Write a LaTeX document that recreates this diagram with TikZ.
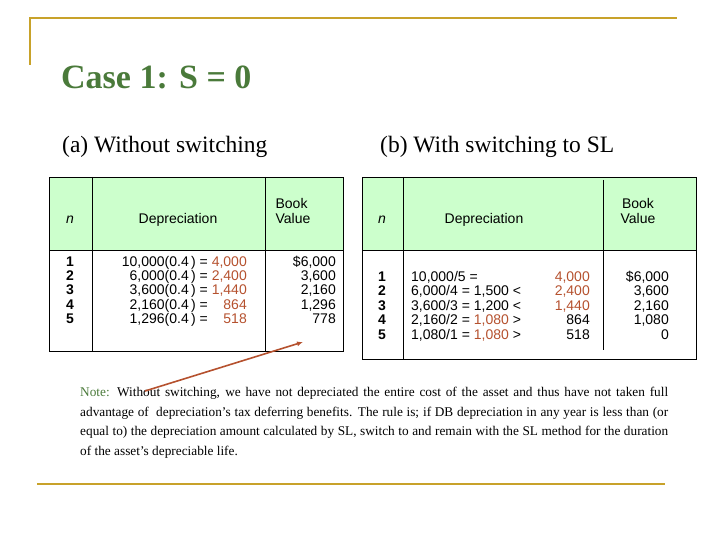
\documentclass[tikz,border=0pt]{standalone}
\usetikzlibrary{arrows.meta}
\usepackage{fontspec}
\setmainfont{Liberation Serif}
\newfontfamily\arial{Liberation Sans}
\definecolor{gold}{HTML}{C8A22A}
\definecolor{ttl}{HTML}{4A7A3A}
\definecolor{rd}{HTML}{B5512E}
\definecolor{hdr}{HTML}{CCFFCC}
\newcommand{\rv}[1]{\makebox[2.5em][r]{\color{rd}#1}}
\newcommand{\bv}[1]{\makebox[2.5em][r]{#1}}
\newcommand{\lrow}[5]{%
  \node[nb,anchor=base] (lr#1) at (70,266+14.4*#1) {#2};
  \node[tt,anchor=base east] (ldv#1) at (247,266+14.4*#1) {#3(0.4\,) = \rv{#4}};
  \node[tt,anchor=base east] (lbv#1) at (336,266+14.4*#1) {#5};}
\newcommand{\rrow}[5]{%
  \node[nb,anchor=base] (rr#1) at (382,281+14.6*#1) {#2};
  \node[tt,anchor=base west] (rdl#1) at (411,281+14.6*#1) {#3};
  \node[tt,anchor=base east] (rdr#1) at (590,281+14.6*#1) {#4};
  \node[tt,anchor=base east] (rbv#1) at (669,281+14.6*#1) {#5};}
\begin{document}
\begin{tikzpicture}[x=1pt,y=-1pt,
  tt/.style={font=\arial\fontsize{14}{14.5}\selectfont,inner sep=0pt},
  nb/.style={font=\arial\bfseries\fontsize{14}{14.5}\selectfont,inner sep=0pt},
  tb/.style={draw=black,line width=0.8pt}]
\useasboundingbox (0,0) rectangle (720,540);
\draw[gold,line width=2.5pt] (30,65) -- (30,18) -- (677,18);
\draw[gold,line width=1.8pt] (37,484) -- (665,484);
\node[anchor=base west,inner sep=0pt,text=ttl,font=\bfseries\fontsize{34}{36}\selectfont] (title) at (61,89) {Case 1: S = 0};
\node[anchor=base west,inner sep=0pt,font=\fontsize{23.5}{26}\selectfont] (sa) at (62,153) {(a) Without switching};
\node[anchor=base west,inner sep=0pt,font=\fontsize{23.5}{26}\selectfont] (sb) at (380,153) {(b) With switching to SL};
% left table
\fill[hdr] (49,177) rectangle (343,250);
\draw[tb] (49,177) rectangle (343,351);
\draw[tb] (49,250) -- (343,250);
\draw[tb] (92,177) -- (92,351);
\draw[tb] (265,177) -- (265,351);
\node[tt] (ln) at (70,220) {\itshape n};
\node[tt] (ld) at (178,220) {Depreciation};
\node[tt,align=left] (lb) at (293,211) {Book\\Value};
\lrow{0}{1}{10,000}{4,000}{\$6,000}
\lrow{1}{2}{6,000}{2,400}{3,600}
\lrow{2}{3}{3,600}{1,440}{2,160}
\lrow{3}{4}{2,160}{864}{1,296}
\lrow{4}{5}{1,296}{518}{778}
% right table
\fill[hdr] (362,177) rectangle (696,250);
\draw[tb] (362,177) rectangle (696,359);
\draw[tb] (362,250) -- (696,250);
\draw[tb] (403,177) -- (403,359);
\draw[tb] (603,180) -- (603,350);
\node[tt] (rn) at (382,220) {\itshape n};
\node[tt] (rd) at (484,220) {Depreciation};
\node[tt,align=center] (rb) at (638,211) {Book\\Value};
\rrow{0}{1}{10,000/5 =}{\rv{4,000}}{\$6,000}
\rrow{1}{2}{6,000/4 = 1,500 <}{\rv{2,400}}{3,600}
\rrow{2}{3}{3,600/3 = 1,200 <}{\rv{1,440}}{2,160}
\rrow{3}{4}{2,160/2 = {\color{rd}1,080} >}{\bv{864}}{1,080}
\rrow{4}{5}{1,080/1 = {\color{rd}1,080} >}{\bv{518}}{0}
\node[anchor=north west,inner sep=0pt,text width=588pt,align=justify,font=\fontsize{13.3}{19.6}\selectfont] (note) at (80,387) {{\color{ttl}Note:} Without switching, we have not depreciated the entire cost of the asset and thus have not taken full advantage of\ \ depreciation's tax deferring benefits. The rule is; if DB depreciation in any year is less than (or equal to) the depreciation amount calculated by SL, switch to and remain with the SL method for the duration of the asset's depreciable life.};
\coordinate (atip) at (303,342);
\coordinate (atail) at (145,391);
\draw[rd,line width=1.6pt,-{Latex[length=6pt,width=5pt]}] (atail) -- (atip);
\end{tikzpicture}
\end{document}
